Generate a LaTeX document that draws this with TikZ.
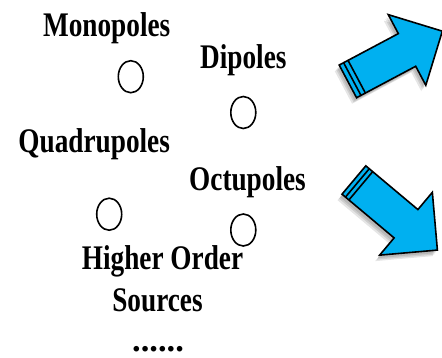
\documentclass[tikz,border=0pt]{standalone}
\usepackage{fontspec}
\setmainfont{Liberation Serif}
\usetikzlibrary{shapes.geometric}
\definecolor{arrowblue}{RGB}{0,176,240}
% narrow bold serif used for all labels
\newcommand\narrowlabel[1]{\scalebox{0.79}[1]{\rmfamily\bfseries #1}}

\tikzset{
  x=1pt, y=-1pt,
  label text/.style={font=\fontsize{34.5}{40}\selectfont, inner sep=0, anchor=base},
  pole/.style={draw, ellipse, line width=1.6pt, minimum width=25pt,
               minimum height=32pt, inner sep=0},
  % block arrow: shaft length, head half-width (= head length), striped tail depth
  arrow outline/.style n args={3}{insert path={
     (-#3,-18.5) -- (#1,-18.5) -- (#1,-#2) -- ({#1+#2},0) -- (#1,#2)
     -- (#1,18.5) -- (-#3,18.5) -- cycle}},
  arrow body/.style={fill=arrowblue, draw=black, line width=1.6pt, line join=miter},
  arrow shade/.style={fill=black, opacity=0.10},
}

\begin{document}
\begin{tikzpicture}
  \fill[white] (0,0) rectangle (442,357);
  \useasboundingbox (0,0) rectangle (442,357);

  % labels
  \node[label text] (mono)  at (106.7,36.7)  {\narrowlabel{Monopoles}};
  \node[label text] (di)    at (243.3,68.3)  {\narrowlabel{Dipoles}};
  \node[label text] (quad)  at (94.2,152.3)  {\narrowlabel{Quadrupoles}};
  \node[label text] (oct)   at (247.5,190)   {\narrowlabel{Octupoles}};
  \node[label text] (high)  at (162.5,269.7) {\narrowlabel{Higher Order}};
  \node[label text] (src)   at (157.5,311.3) {\narrowlabel{Sources}};
  \node[label text] (more)  at (158,351)     {\rmfamily\bfseries ......};

  % source symbols
  \node[pole] (cmono) at (130.8,76.7)  {};
  \node[pole] (cdi)   at (243.3,112.5) {};
  \node[pole] (cquad) at (109.2,214.2) {};
  \node[pole] (coct)  at (243.3,230)   {};

  % upper arrow: soft shadow, then body with striped tail
  \foreach \dx/\dy in {-2/3, -3/4.5, -4.5/6}{
    \begin{scope}[shift={(356.7+\dx,76.7+\dy)}, rotate=28]
      \path[arrow shade][arrow outline={57}{40}{10}];
    \end{scope}
  }
  \begin{scope}[shift={(356.7,76.7)}, rotate=28]
    \path[arrow body][arrow outline={57}{40}{10}];
    \draw[line width=1.6pt] (0,-18.5) -- (0,18.5) (-5,-18.5) -- (-5,18.5);
  \end{scope}

  % lower arrow
  \foreach \dx/\dy in {-2/3, -3/4.5, -4.5/6}{
    \begin{scope}[shift={(360.8+\dx,185.8+\dy)}, rotate=-40]
      \path[arrow shade][arrow outline={59}{41}{9}];
    \end{scope}
  }
  \begin{scope}[shift={(360.8,185.8)}, rotate=-40]
    \path[arrow body][arrow outline={59}{41}{9}];
    \draw[line width=1.6pt] (0,-18.5) -- (0,18.5) (-4.5,-18.5) -- (-4.5,18.5);
  \end{scope}
\end{tikzpicture}
\end{document}
